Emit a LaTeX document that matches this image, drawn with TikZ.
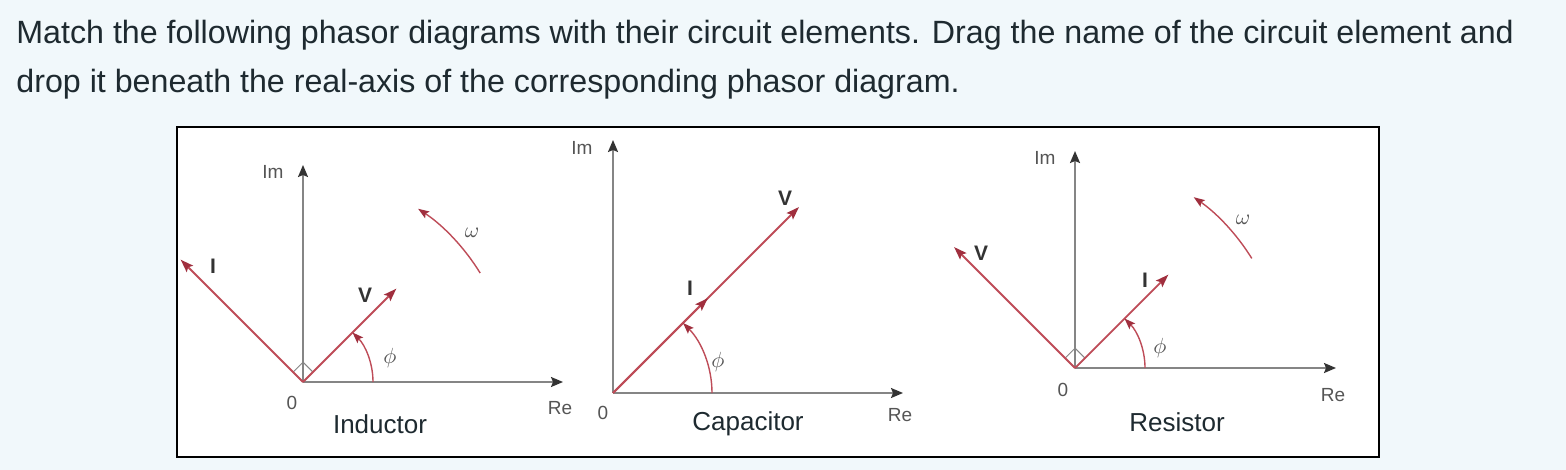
\documentclass[tikz,border=0pt]{standalone}
\usepackage{fontspec}
\setmainfont{Liberation Sans}
\usepackage{tikz}
\usetikzlibrary{arrows.meta, calc, positioning}
\definecolor{pagebg}{HTML}{F1F8FB}
\definecolor{axisgray}{HTML}{858585}
\definecolor{phasorred}{HTML}{BE4C58}
\definecolor{tipred}{HTML}{A02F3E}
\definecolor{inkdark}{HTML}{1E2A30}
\definecolor{lblgray}{HTML}{555555}
\tikzstyle{axis} = [draw=axisgray, line width=0.9pt, -{Stealth[length=6pt, width=5pt, inset=1pt, color=black!80]}]
\tikzstyle{phasor} = [draw=phasorred, line width=0.9pt, -{Stealth[length=6.5pt, width=4.5pt, inset=1.2pt, color=tipred]}]
\tikzstyle{angmark} = [draw=phasorred, line width=0.7pt, -{Stealth[length=5.5pt, width=4pt, inset=1pt, color=tipred]}]
\tikzstyle{rightmark} = [draw=axisgray, line width=0.5pt]
\tikzstyle{axlabel} = [text=lblgray, font=\fontsize{9.5}{11}\selectfont, inner sep=0]
\tikzstyle{phlabel} = [text=black!80, font=\fontsize{10.5}{12}\selectfont\bfseries, inner sep=0]
\tikzstyle{greek} = [text=lblgray, font=\fontsize{10.5}{12}\selectfont, inner sep=0]
\tikzstyle{element} = [text=inkdark, font=\fontsize{13}{15}\selectfont, inner sep=0]
\tikzstyle{question} = [text=inkdark, font=\fontsize{16.1}{19}\selectfont, inner sep=0, anchor=base west]

\begin{document}
\begin{tikzpicture}[x=0.5pt, y=-0.5pt]
				\fill[pagebg] (0, 0) rectangle (1566, 470);
				\useasboundingbox (0, 0) rectangle (1566, 470);

				\node (Line1) [question] at (16, 44) {Match the following phasor diagrams with their circuit elements. Drag the name of the circuit element and};
				\node (Line2) [question] at (16, 93) {drop it beneath the real-axis of the corresponding phasor diagram.};

				\node (Frame) [draw=black, fill=white, line width=1pt, minimum width=601pt, minimum height=165pt, inner sep=0] at (777.5, 292) {};

				% inductor
				\coordinate (O1) at (303, 382);
				\coordinate (ImTip1) at (303, 165);
				\coordinate (ReTip1) at (563, 382);
				\draw[axis] (O1) -- (ImTip1);
				\draw[axis] (O1) -- (ReTip1);
				\node (Im1) [axlabel] at (273, 172) {Im};
				\node (Re1) [axlabel] at (560, 408) {Re};
				\node (Zero1) [axlabel] at (292, 403) {0};
				\draw[rightmark] (O1) -- ++(-45:14) -- ++(-135:14) -- ++(135:14) -- cycle;
				\coordinate (V1) at ($(O1) + (-45:132)$);
				\coordinate (I1) at ($(O1) + (-135:173)$);
				\draw[phasor] (O1) -- (V1);
				\draw[phasor] (O1) -- (I1);
				\node (VLbl1) [phlabel] at (365, 295) {V};
				\node (ILbl1) [phlabel] at (213, 266) {I};
				\draw[angmark] ($(O1) + (70, 0)$) arc[start angle=0, end angle=-45, radius=70];
				\node (Phi1) [greek] at (390, 358) {$\phi$};
				\draw[angmark] ($(O1) + (-31.6:208)$) arc[start angle=-31.6, end angle=-56.4, radius=208];
				\node (Omega1) [greek] at (472, 233) {$\omega$};
				\node (Inductor) [element] at (380, 424) {Inductor};

				% capacitor
				\coordinate (O2) at (613, 393);
				\coordinate (ImTip2) at (613, 140);
				\coordinate (ReTip2) at (903, 393);
				\draw[axis] (O2) -- (ImTip2);
				\draw[axis] (O2) -- (ReTip2);
				\node (Im2) [axlabel] at (582, 148) {Im};
				\node (Re2) [axlabel] at (900, 415) {Re};
				\node (Zero2) [axlabel] at (603, 413) {0};
				\coordinate (V2) at ($(O2) + (-45:263)$);
				\coordinate (I2) at ($(O2) + (-45:134)$);
				\draw[phasor] (O2) -- (V2);
				\draw[phasor] (O2) -- (I2);
				\node (VLbl2) [phlabel] at (785, 198) {V};
				\node (ILbl2) [phlabel] at (690, 288) {I};
				\draw[angmark] ($(O2) + (99, 0)$) arc[start angle=0, end angle=-45, radius=99];
				\node (Phi2) [greek] at (718, 362) {$\phi$};
				\node (Capacitor) [element] at (748, 424) {Capacitor};

				% resistor
				\coordinate (O3) at (1075, 368);
				\coordinate (ImTip3) at (1075, 151);
				\coordinate (ReTip3) at (1336, 368);
				\draw[axis] (O3) -- (ImTip3);
				\draw[axis] (O3) -- (ReTip3);
				\node (Im3) [axlabel] at (1045, 158) {Im};
				\node (Re3) [axlabel] at (1333, 395) {Re};
				\node (Zero3) [axlabel] at (1063, 390) {0};
				\draw[rightmark] (O3) -- ++(-45:14) -- ++(-135:14) -- ++(135:14) -- cycle;
				\coordinate (I3) at ($(O3) + (-45:132)$);
				\coordinate (V3) at ($(O3) + (-135:171)$);
				\draw[phasor] (O3) -- (I3);
				\draw[phasor] (O3) -- (V3);
				\node (VLbl3) [phlabel] at (981, 253) {V};
				\node (ILbl3) [phlabel] at (1145, 280) {I};
				\draw[angmark] ($(O3) + (70, 0)$) arc[start angle=0, end angle=-45, radius=70];
				\node (Phi3) [greek] at (1160, 348) {$\phi$};
				\draw[angmark] ($(O3) + (-31.8:208)$) arc[start angle=-31.8, end angle=-55.2, radius=208];
				\node (Omega3) [greek] at (1243, 220) {$\omega$};
				\node (Resistor) [element] at (1177, 422) {Resistor};
			\end{tikzpicture}
\end{document}
